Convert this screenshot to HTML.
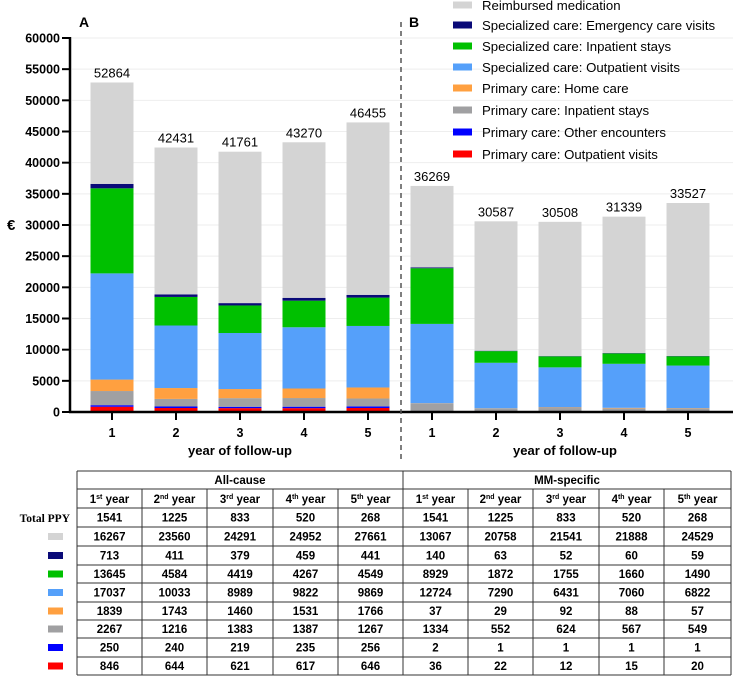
<!DOCTYPE html>
<html><head><meta charset="utf-8"><style>
html,body{margin:0;padding:0;background:#fff;width:733px;height:676px;overflow:hidden}
svg{display:block;font-family:"Liberation Sans",sans-serif}
</style></head><body>
<svg id="chart" width="733" height="676" viewBox="0 0 733 676" xmlns="http://www.w3.org/2000/svg">
<g id="grid"></g>
<g id="bars"></g>
<g id="axes"></g>
<g id="legend"></g>
<g id="table"></g>
</svg>
<script>
const years = ["1","2","3","4","5"];
const seriesNames = ["Primary care: Outpatient visits","Primary care: Other encounters","Primary care: Inpatient stays","Primary care: Home care","Specialized care: Outpatient visits","Specialized care: Inpatient stays","Specialized care: Emergency care visits","Reimbursed medication"];
const seriesColors = ["#ff0000","#0000ff","#a0a0a2","#ffa040","#55a0fa","#00c000","#0a0a78","#d4d4d4"];
const allOutpatient = [846,644,621,617,646];
const allOther = [250,240,219,235,256];
const allPrimInpat = [2267,1216,1383,1387,1267];
const allHome = [1839,1743,1460,1531,1766];
const allSpecOut = [17037,10033,8989,9822,9869];
const allSpecInpat = [13645,4584,4419,4267,4549];
const allEmerg = [713,411,379,459,441];
const allMed = [16267,23560,24291,24952,27661];
const mmOutpatient = [36,22,12,15,20];
const mmOther = [2,1,1,1,1];
const mmPrimInpat = [1334,552,624,567,549];
const mmHome = [37,29,92,88,57];
const mmSpecOut = [12724,7290,6431,7060,6822];
const mmSpecInpat = [8929,1872,1755,1660,1490];
const mmEmerg = [140,63,52,60,59];
const mmMed = [13067,20758,21541,21888,24529];
const totalPPY = [1541,1225,833,520,268];
const yTicks = [0,5000,10000,15000,20000,25000,30000,35000,40000,45000,50000,55000,60000];

const NS="http://www.w3.org/2000/svg";
function el(tag,attrs,parent,text){const e=document.createElementNS(NS,tag);for(const k in attrs)e.setAttribute(k,attrs[k]);if(text!==undefined)e.textContent=text;parent.appendChild(e);return e;}
const Y0=412,Y1=38,YMAX=60000;
const y=v=>Y0-v*(Y0-Y1)/YMAX;
const xA=i=>112+i*64, xB=i=>432+i*64;
const BW=43;
const grid=document.getElementById('grid'),bars=document.getElementById('bars'),axes=document.getElementById('axes'),legend=document.getElementById('legend'),table=document.getElementById('table');

yTicks.forEach(t=>{
  if(t>0){const g=el('line',{x1:72,x2:733,y1:y(t),y2:y(t),stroke:'#eeeeee','stroke-width':1},grid);
  
  }
  const tk=el('line',{x1:62,x2:70,y1:y(t),y2:y(t),stroke:'#000','stroke-width':2},axes);
  
  
  const lb=el('text',{x:60,y:y(t)+4.5,'text-anchor':'end','font-size':12.5,'font-weight':'bold'},axes,String(t));
  
  
});

function drawPanel(series,xf,panel){
  years.forEach((yr,i)=>{
    let acc=0;
    series.forEach((s,k)=>{
      const v=s[i];
      const r=el('rect',{x:xf(i)-BW/2,y:y(acc+v),width:BW,height:y(acc)-y(acc+v),fill:seriesColors[k]},bars);
      
      
      acc+=v;
    });
    const t=el('text',{x:xf(i),y:y(acc)-5,'text-anchor':'middle','font-size':13},bars,String(acc));
    
    
    const tk=el('line',{x1:xf(i),x2:xf(i),y1:412,y2:420,stroke:'#000','stroke-width':2},axes);
    
    
    const lb=el('text',{x:xf(i),y:437,'text-anchor':'middle','font-size':12.5,'font-weight':'bold'},axes,yr);
    
    
  });
}
drawPanel([allOutpatient,allOther,allPrimInpat,allHome,allSpecOut,allSpecInpat,allEmerg,allMed],xA,'a');
drawPanel([mmOutpatient,mmOther,mmPrimInpat,mmHome,mmSpecOut,mmSpecInpat,mmEmerg,mmMed],xB,'b');

let a;
a=el('line',{x1:70,x2:70,y1:37,y2:413,stroke:'#000','stroke-width':2.5},axes);

a=el('line',{x1:69,x2:733,y1:412,y2:412,stroke:'#000','stroke-width':2.5},axes);

a=el('line',{x1:401,x2:401,y1:22,y2:462,stroke:'#555','stroke-width':1.5,'stroke-dasharray':'5,4'},axes);

a=el('text',{x:7,y:230,'font-size':15,'font-weight':'bold'},axes,'€');

a=el('text',{x:79,y:27,'font-size':14,'font-weight':'bold'},axes,'A');

a=el('text',{x:409,y:27,'font-size':14,'font-weight':'bold'},axes,'B');

a=el('text',{x:240,y:455,'text-anchor':'middle','font-size':13,'font-weight':'bold'},axes,'year of follow-up');

a=el('text',{x:565,y:455,'text-anchor':'middle','font-size':13,'font-weight':'bold'},axes,'year of follow-up');


const legY=[5,25,46,67,88,110,132,154];
for(let k=7;k>=0;k--){
  const row=7-k;
  const s=el('rect',{x:453,y:legY[row]-3.5,width:19,height:7,fill:seriesColors[k]},legend);
  
  
  const t=el('text',{x:482,y:legY[row]+5,'font-size':13.2},legend,seriesNames[k]);
  
  
}

// table
const colX=[77,142,207,273,338,403,468,533,599,664,731];
const rowY=[471,489,508,527,546,565,583,602,620,638,657,675];
const L={stroke:'#333','stroke-width':1};
function ln(x1,y1,x2,y2){const l=el('line',Object.assign({x1,y1,x2,y2},L),table);}
rowY.forEach((ry,i)=>{ if(i===1){ln(77,ry,731,ry);} else ln(77,ry,731,ry);});
ln(77,471,77,675);ln(731,471,731,675);ln(403,471,403,675);
colX.forEach((cx,i)=>{ if(i>0&&i<10&&i!==5) ln(cx,489,cx,675);});
a=el('text',{x:240,y:484,'text-anchor':'middle','font-size':11.5,'font-weight':'bold'},table,'All-cause');

a=el('text',{x:567,y:484,'text-anchor':'middle','font-size':11.5,'font-weight':'bold'},table,'MM-specific');

const ords=['st','nd','rd','th','th'];
for(let c=0;c<10;c++){
  const cx=(colX[c]+colX[c+1])/2;
  const yi=c%5;
  const t=el('text',{x:cx,y:503,'text-anchor':'middle','font-size':11.5,'font-weight':'bold'},table);
  
  
  const t1=el('tspan',{},t,String(yi+1));
  const t2=el('tspan',{'font-size':7,dy:-4},t,ords[yi]);
  const t3=el('tspan',{dy:4},t,' year');
}
a=el('text',{x:70,y:522,'text-anchor':'end','font-size':11.5,'font-weight':'bold','font-family':'Liberation Serif, serif'},table,'Total PPY');

const tRows=[[totalPPY,totalPPY],[allMed,mmMed],[allEmerg,mmEmerg],[allSpecInpat,mmSpecInpat],[allSpecOut,mmSpecOut],[allHome,mmHome],[allPrimInpat,mmPrimInpat],[allOther,mmOther],[allOutpatient,mmOutpatient]];
tRows.forEach((pair,r)=>{
  const cy=(rowY[r+2]+rowY[r+3])/2;
  if(r>0){const k=8-r;const s=el('rect',{x:48,y:cy-3.5,width:15,height:7,fill:seriesColors[k]},table);
    
    }
  for(let c=0;c<10;c++){
    const arr=pair[c<5?0:1];
    const t=el('text',{x:(colX[c]+colX[c+1])/2,y:cy+4,'text-anchor':'middle','font-size':11.5,'font-weight':'bold'},table,String(arr[c%5]));
    
    
  }
});
</script>
</body></html>
